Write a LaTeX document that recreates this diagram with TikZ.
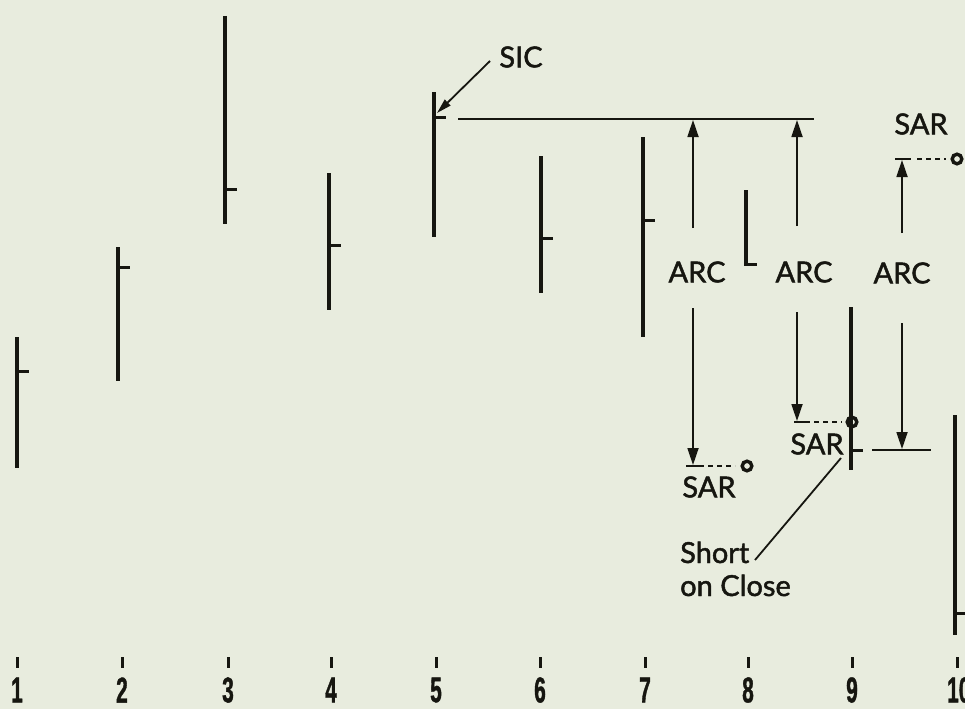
\documentclass[tikz,border=0pt]{standalone}
\usepackage{fontspec}
\setmainfont{Lato}
\newfontfamily\lblfont[FakeBold=1.6]{Lato}
\newfontfamily\numfont[FakeStretch=0.58,FakeBold=1]{Liberation Sans}
\usetikzlibrary{arrows.meta}
\definecolor{bg}{RGB}{232,236,222}
\definecolor{ink}{RGB}{22,22,16}
\begin{document}
\begin{tikzpicture}[x=1pt,y=-1pt,
  bar/.style={line width=4.5pt, draw=ink},
  closetick/.style={line width=3pt, draw=ink},
  thin/.style={line width=1.8pt, draw=ink},
  arr/.style={thin, -{Triangle[length=17pt,width=11pt]}},
  dsh/.style={thin, dash pattern=on 5pt off 4pt},
  ring/.style={line width=3.4pt, draw=ink},
  lbl/.style={font=\lblfont\fontsize{29}{30}\selectfont, text=ink, inner sep=0pt},
  num/.style={font=\numfont\bfseries\fontsize{36}{36}\selectfont, text=ink, inner sep=0pt}]
\fill[bg] (0,0) rectangle (965,709);
\useasboundingbox (0,0) rectangle (965,709);
% price bars: x, high, low, close
\foreach \x/\h/\l/\c in {17/337/468/371, 118/247/381/267, 225/16/224/189, 329/173/310/245,
  434/92/237/117, 541/156/293/238, 643/137/337/220, 851/307/470/450, 955/415/635/613}{
  \draw[bar] (\x,\h) -- (\x,\l);
  \draw[closetick] (\x,\c) -- ({\x+12},\c);
}
\draw[bar, line width=3.8pt] (746,190) -- (746,266);
\draw[closetick] (746,264.5) -- (757,264.5);
% day ticks and numbers
\foreach \x/\t in {17/1, 122/2, 228/3, 331/4, 436/5, 540/6, 645/7, 748/8, 852/9}{
  \draw[line width=3pt, draw=ink] (\x,657) -- (\x,668);
  \node[num] (n\t) at (\x,690) {\t};
}
\draw[line width=3pt, draw=ink] (957,657) -- (957,668);
\node[num, anchor=west] (n10) at (947,690) {10};
% SIC
\node[lbl] (sic) at (521,57) {SIC};
\coordinate (sicfrom) at (490,61);
\coordinate (sicto) at (437,113);
\draw[thin, -{Triangle[length=15pt,width=8pt]}] (sicfrom) -- (sicto);
\coordinate (sicl) at (458,119);
\coordinate (sicr) at (814,119);
\draw[thin] (sicl) -- (sicr);
% ARC labels
\node[lbl] (arc1) at (697,272) {ARC};
\node[lbl] (arc2) at (804,272) {ARC};
\node[lbl] (arc3) at (902,273) {ARC};
% arrow group 1
\coordinate (a1t) at (693,228); \coordinate (a1u) at (693,120);
\coordinate (a1b) at (693,308); \coordinate (a1d) at (693,465);
\draw[arr] (a1t) -- (a1u);
\draw[arr] (a1b) -- (a1d);
\draw[thin] (686,466) -- (704,466);
\draw[dsh] (708,466) -- (735,466);
\draw[ring] (747,466) circle[radius=4.8pt];
\node[lbl] (sar1) at (709,487) {SAR};
% arrow group 2
\coordinate (a2t) at (797,226); \coordinate (a2u) at (797,120);
\coordinate (a2b) at (797,312); \coordinate (a2d) at (797,421);
\draw[arr] (a2t) -- (a2u);
\draw[arr] (a2b) -- (a2d);
\draw[thin] (794,422) -- (810,422);
\draw[dsh] (814,422) -- (842,422);
\draw[ring] (852,422) circle[radius=4.8pt];
\node[lbl] (sar2) at (817,444) {SAR};
% arrow group 3
\coordinate (a3t) at (902,233); \coordinate (a3u) at (902,160);
\coordinate (a3b) at (902,323); \coordinate (a3d) at (902,449);
\draw[arr] (a3t) -- (a3u);
\draw[arr] (a3b) -- (a3d);
\draw[thin] (895,159) -- (911,159);
\draw[dsh] (917,159) -- (946,159);
\draw[ring] (957,159) circle[radius=4.8pt];
\node[lbl] (sar3) at (921,124) {SAR};
\draw[thin] (872,450) -- (931,450);
% Short on Close
\node[lbl, anchor=base west] (soc1) at (680,563) {Short};
\node[lbl, anchor=base west] (soc2) at (680,596) {on Close};
\coordinate (socfrom) at (755,560);
\coordinate (socto) at (841,458);
\draw[thin] (socfrom) -- (socto);
\end{tikzpicture}
\end{document}
